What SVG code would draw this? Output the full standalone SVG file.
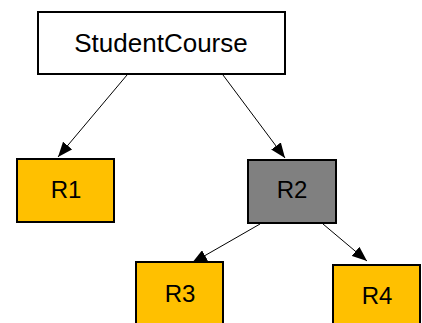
<svg xmlns="http://www.w3.org/2000/svg" width="422" height="323" viewBox="0 0 422 323">
<style>
.box{stroke:#000;stroke-width:2}
.y{fill:#FFC000}
.lbl{font-family:"Liberation Sans",Arial,sans-serif;fill:#000;text-anchor:middle}
.edge{stroke:#000;stroke-width:1;fill:none;marker-end:url(#ah)}
</style>
<defs>
<marker id="ah" markerUnits="userSpaceOnUse" markerWidth="16" markerHeight="12" refX="15" refY="6" orient="auto">
<path d="M0,0 L15,6 L0,12 Z" fill="#000"/>
</marker>
</defs>
<rect width="422" height="323" fill="#fff"/>
<g id="connectors">
<line class="edge" x1="127" y1="75" x2="58" y2="157"/>
<line class="edge" x1="223" y1="75" x2="285" y2="158"/>
<line class="edge" x1="260" y1="224" x2="192" y2="263"/>
<line class="edge" x1="323" y1="224" x2="367" y2="261"/>
</g>
<g id="StudentCourse">
<rect class="box" x="38" y="12" width="247" height="62" fill="#fff"/>
<text class="lbl" x="161" y="52" font-size="26">StudentCourse</text>
</g>
<g id="R1">
<rect class="box y" x="17" y="159" width="97" height="63"/>
<text class="lbl" x="66" y="198" font-size="24">R1</text>
</g>
<g id="R2">
<rect class="box" x="248" y="160" width="88" height="63" fill="#808080"/>
<text class="lbl" x="292" y="198" font-size="24">R2</text>
</g>
<g id="R3">
<rect class="box" x="136" y="262" width="87" height="70" fill="#FFC000"/>
<text class="lbl" x="180" y="302" font-size="24">R3</text>
</g>
<g id="R4">
<rect class="box" x="333" y="265" width="87" height="70" fill="#FFC000"/>
<text class="lbl" x="377" y="304" font-size="24">R4</text>
</g>
</svg>
